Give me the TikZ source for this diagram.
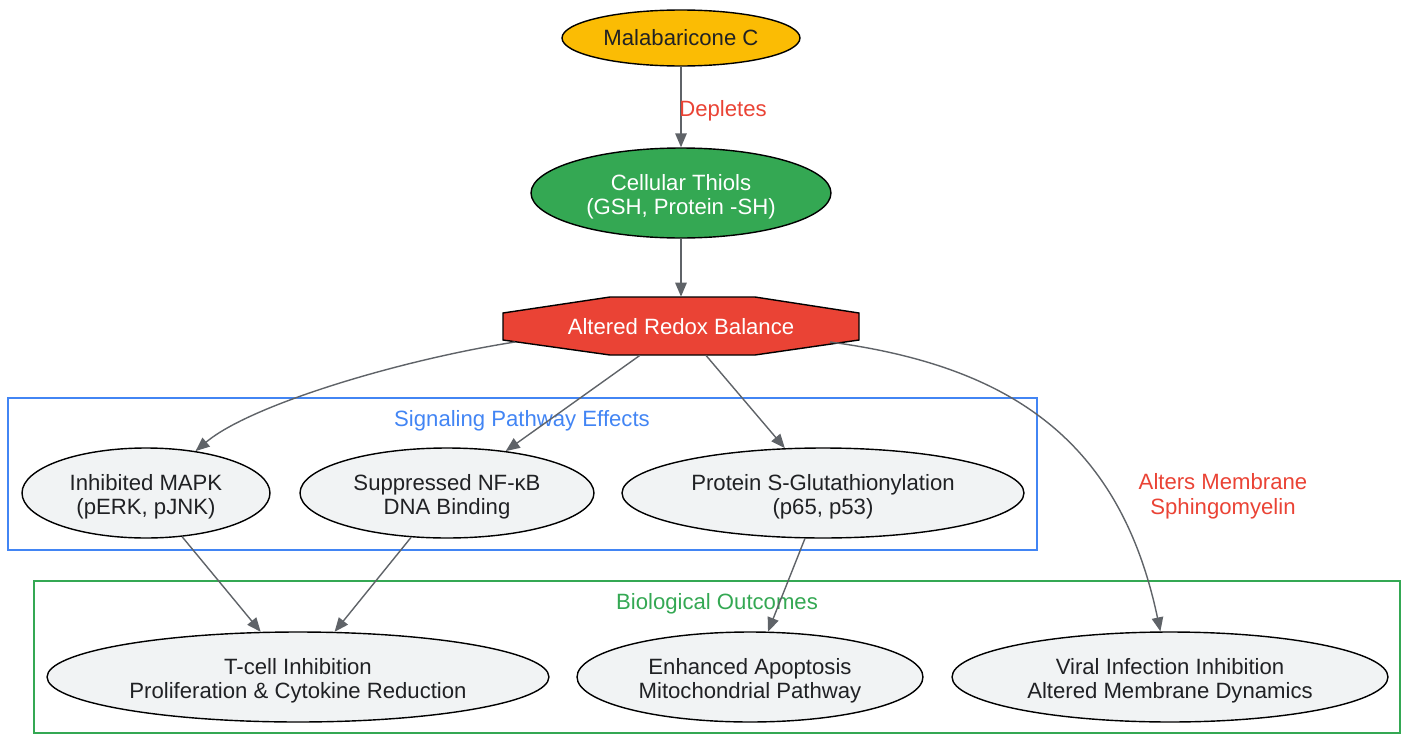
\documentclass[tikz,border=0pt]{standalone}
\usepackage{fontspec}
\setmainfont{Liberation Sans}
\usetikzlibrary{shapes.geometric,arrows.meta,calc}

\definecolor{gyellow}{HTML}{FBBC04}
\definecolor{ggreen}{HTML}{34A853}
\definecolor{gred}{HTML}{EA4335}
\definecolor{gblue}{HTML}{4285F4}
\definecolor{ggrey}{HTML}{F1F3F4}
\definecolor{gdark}{HTML}{202124}
\definecolor{gedge}{HTML}{5F6368}

\begin{document}
\begin{tikzpicture}[x=0.02cm, y=-0.02cm,
    font=\fontsize{12.6pt}{14.2pt}\selectfont,
    oval/.style={ellipse, draw=black, line width=0.8pt, inner sep=0pt, align=center},
    twoline/.style={text height=26pt, text depth=1pt},
    effect/.style={oval, twoline, fill=ggrey, text=gdark, minimum height=1.8cm},
    edge/.style={draw=gedge, line width=0.8pt, -{Triangle[length=0.28cm, width=0.23cm]}},
    edgelabel/.style={text=gred, align=center}]
\useasboundingbox (0,0) rectangle (1404,734);

\draw[gblue, line width=0.8pt] (8,398) rectangle (1037,550);
\draw (522,421) node[text=gblue] {Signaling Pathway Effects};
\draw[ggreen, line width=0.8pt] (34,581) rectangle (1400,733);
\draw (717,604) node[text=ggreen] {Biological Outcomes};

\node[oval, fill=gyellow, text=gdark, minimum width=4.76cm, minimum height=1.12cm] (mal) at (681,38) {Malabaricone C};
\node[oval, twoline, fill=ggreen, text=white, minimum width=6cm, minimum height=1.8cm] (thiols) at (681,193) {Cellular Thiols\\(GSH, Protein -SH)};

\node[rectangle, minimum width=7.12cm, minimum height=1.16cm, inner sep=0pt] (redox) at (681,326) {};
\draw[fill=gred, line width=0.8pt] (503,313) -- (610,297) -- (755,297) -- (859,313)
    -- (859,340) -- (755,355) -- (610,355) -- (503,340) -- cycle;
\node[text=white] at (681,327) {Altered Redox Balance};
\coordinate (redox-w) at (515,342);
\coordinate (redox-e) at (830,342);

\node[effect, minimum width=4.96cm] (mapk) at (146,493) {Inhibited MAPK\\(pERK, pJNK)};
\node[effect, minimum width=5.88cm] (nfkb) at (447,493) {Suppressed NF-κB\\DNA Binding};
\node[effect, minimum width=8.04cm] (glut) at (823,493) {Protein S-Glutathionylation\\(p65, p53)};

\node[effect, minimum width=10.04cm] (tcell) at (298,677) {T-cell Inhibition\\Proliferation \& Cytokine Reduction};
\node[effect, minimum width=6.92cm] (apop) at (750,677) {Enhanced Apoptosis\\Mitochondrial Pathway};
\node[effect, minimum width=8.72cm] (viral) at (1170,677) {Viral Infection Inhibition\\Altered Membrane Dynamics};

\draw[edge] (mal) -- (thiols);
\node[edgelabel] (depl) at (723,111) {Depletes};
\draw[edge] (thiols) -- (redox);
\draw[edge] (redox-w) .. controls (400,360) and (250,405) .. (mapk);
\draw[edge] (redox) -- (nfkb);
\draw[edge] (redox) -- (glut);
\draw[edge] (redox-e) .. controls (1010,366) and (1120,440) .. (viral);
\node[edgelabel] (sphingo) at (1223,496) {Alters Membrane\\Sphingomyelin};
\draw[edge] (mapk) -- (tcell);
\draw[edge] (nfkb) -- (tcell);
\draw[edge] (glut) -- (apop);
\end{tikzpicture}
\end{document}
